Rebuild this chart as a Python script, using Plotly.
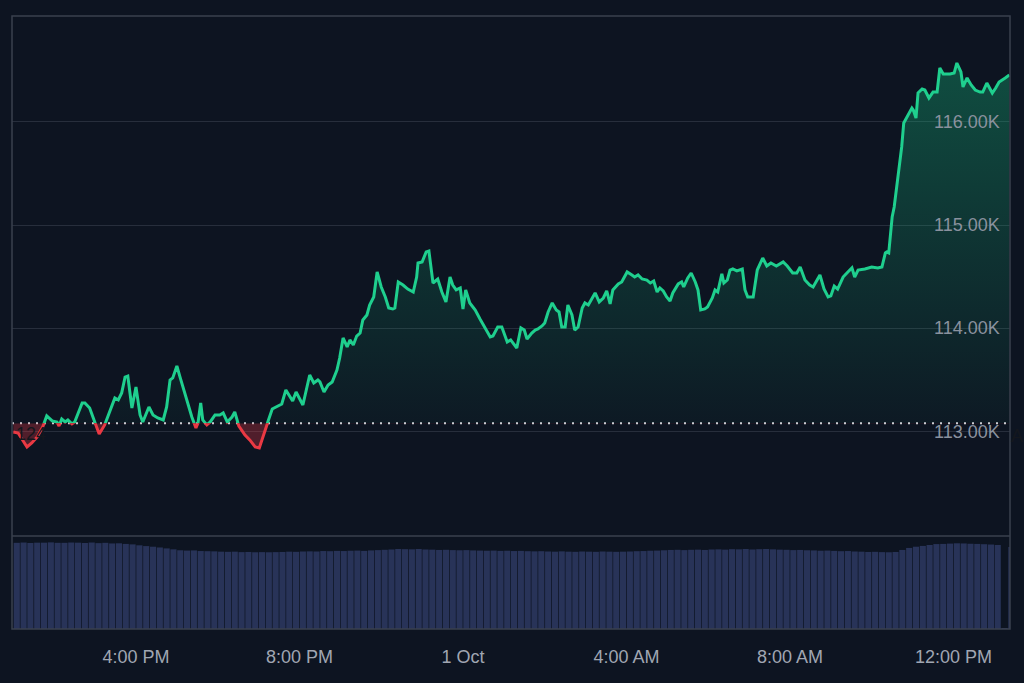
import pandas as pd
import plotly.graph_objects as go

# ---------------- data ----------------
START = pd.Timestamp("2025-09-30 13:00")

# minutes after START for each price sample
MINUTES = [
    0, 7, 20, 27, 35, 43, 49, 57, 64, 67, 71, 76, 80, 86, 90, 101, 105, 112, 120, 126,
    134, 142, 149, 154, 159, 164, 168, 174, 180, 186, 190, 199, 205, 212, 220, 225, 230, 234, 240, 245,
    249, 255, 262, 268, 271, 275, 278, 284, 289, 296, 303, 308, 314, 321, 325, 331, 340, 347, 355, 361,
    366, 372, 380, 388, 394, 400, 408, 410, 415, 425, 435, 441, 447, 450, 456, 462, 468, 475, 479, 484,
    490, 494, 499, 504, 509, 513, 519, 523, 529, 534, 540, 546, 551, 557, 560, 565, 572, 579, 587, 592,
    594, 600, 606, 610, 616, 623, 629, 635, 641, 645, 650, 656, 660, 664, 670, 678, 685, 692, 700, 704,
    711, 717, 725, 730, 736, 739, 745, 750, 754, 761, 766, 770, 776, 780, 785, 791, 797, 801, 805, 810,
    814, 820, 824, 829, 835, 839, 844, 849, 854, 860, 866, 871, 876, 880, 888, 893, 901, 908, 912, 917,
    923, 930, 935, 940, 945, 949, 954, 959, 964, 968, 976, 981, 984, 990, 995, 1001, 1005, 1009, 1015, 1019,
    1026, 1030, 1034, 1040, 1043, 1048, 1052, 1056, 1062, 1070, 1074, 1078, 1086, 1092, 1100, 1106, 1112, 1120, 1130, 1136,
    1144, 1150, 1155, 1162, 1169, 1174, 1184, 1190, 1196, 1200, 1205, 1210, 1218, 1225, 1231, 1235, 1240, 1250, 1260, 1269,
    1275, 1280, 1282, 1285, 1290, 1293, 1297, 1300, 1304, 1307, 1312, 1319, 1321, 1325, 1328, 1334, 1338, 1344, 1350, 1356,
    1360, 1365, 1375, 1381, 1385, 1391, 1394, 1400, 1406, 1412, 1419, 1423, 1429, 1437, 1442, 1447, 1456, 1462,
]

PRICES = [
    112997, 112987, 112852, 112891, 112949, 113045, 113152, 113104, 113094, 113055, 113123, 113094, 113113, 113075, 113094, 113278, 113278, 113229, 113084, 112978,
    113065, 113210, 113326, 113307, 113375, 113529, 113539, 113229, 113433, 113162, 113094, 113239, 113162, 113133, 113113, 113239, 113500, 113520, 113636, 113520,
    113433, 113278, 113142, 113036, 113084, 113278, 113113, 113065, 113094, 113162, 113162, 113181, 113094, 113142, 113191, 113055, 112968, 112920, 112852, 112842,
    112949, 113065, 113220, 113249, 113268, 113404, 113307, 113297, 113384, 113258, 113549, 113471, 113500, 113481, 113384, 113452, 113481, 113597, 113713, 113907,
    113820, 113888, 113839, 113926, 113955, 114081, 114130, 114226, 114304, 114546, 114401, 114304, 114197, 114188, 114197, 114449, 114420, 114381, 114352, 114497,
    114633, 114643, 114740, 114749, 114439, 114478, 114352, 114256, 114497, 114420, 114372, 114391, 114188, 114372, 114246, 114178, 114091, 114013, 113917, 113926,
    114013, 114013, 113868, 113888, 113830, 113810, 114004, 113984, 113897, 113955, 113984, 113994, 114023, 114052, 114159, 114246, 114178, 114159, 114013, 114013,
    114226, 114130, 113984, 114013, 114197, 114246, 114226, 114285, 114343, 114256, 114294, 114362, 114236, 114372, 114430, 114449, 114546, 114517, 114497, 114517,
    114478, 114468, 114439, 114459, 114352, 114391, 114362, 114304, 114265, 114343, 114430, 114449, 114401, 114488, 114536, 114449, 114372, 114178, 114188, 114207,
    114294, 114372, 114352, 114527, 114439, 114468, 114565, 114575, 114556, 114575, 114372, 114304, 114304, 114565, 114681, 114604, 114633, 114604, 114643, 114604,
    114536, 114536, 114594, 114468, 114420, 114401, 114517, 114381, 114304, 114314, 114410, 114381, 114497, 114546, 114585, 114497, 114565, 114575, 114594, 114585,
    114594, 114730, 114740, 114730, 115078, 115175, 115369, 115562, 115756, 115988, 116046, 116133, 116114, 116036, 116279, 116317, 116307, 116230, 116288, 116288,
    116521, 116463, 116463, 116472, 116569, 116482, 116337, 116424, 116356, 116307, 116288, 116288, 116375, 116278, 116327, 116385, 116424, 116453,
]

BASELINE = 113081  # opening price (dotted reference line)

# volume bars, one per 10-minute interval starting at START (billions)
VOLUME = [
    55.6, 55.8, 55.5, 55.7, 55.7, 55.9, 55.6, 55.6, 55.8, 55.7, 55.5, 55.8,
    55.4, 55.6, 55.2, 55.3,
    54.9, 54.6, 54.0, 53.5,
    53.1, 52.6, 52.0, 51.4, 50.8,
    50.6, 50.7, 50.3, 50.2, 50.1, 49.9, 49.8, 49.9, 49.6, 49.7, 49.5, 49.6,
    49.5, 49.6, 49.7, 49.9, 49.8, 50.0, 50.1, 50.0, 50.3, 50.2, 50.4, 50.3, 50.5, 50.6, 50.4,
    50.7, 50.9, 51.1, 51.3, 51.6,
    51.5, 51.4, 51.6, 51.3, 51.2, 51.0, 51.1, 50.9, 50.8, 50.9, 50.7, 50.6, 50.5, 50.6, 50.4,
    50.5, 50.3, 50.4, 50.2, 50.1, 50.2, 50.0, 49.9, 50.1, 49.9, 49.8, 50.0, 49.9, 49.8, 50.0, 49.9, 49.8, 49.9,
    50.0, 50.2, 50.3, 50.5, 50.6, 50.8, 51.0, 51.1, 50.9, 51.1,
    51.2, 51.0, 51.3, 51.4, 51.2, 51.5, 51.4, 51.6, 51.3, 51.5, 51.6,
    51.4, 51.2, 51.1, 50.9, 51.0, 50.8, 50.7, 50.5, 50.6,
    50.4, 50.2, 50.3, 50.0, 49.9, 49.7, 49.8, 49.6, 49.5, 49.7,
    51.0, 52.3, 53.1, 53.6, 54.2, 54.8, 54.9, 55.1,
    55.3, 55.2, 55.0, 54.9, 54.7, 54.5, 54.2,
    0.6,
    52.9,
]
VOL_STEP_MIN = 10

Y_TICKS = [113000, 114000, 115000, 116000]
Y_TICK_TEXT = ["113.00K", "114.00K", "115.00K", "116.00K"]

X_TICK_TIMES = ["2025-09-30 16:00", "2025-09-30 20:00", "2025-10-01 00:00",
                "2025-10-01 04:00", "2025-10-01 08:00", "2025-10-01 12:00"]
X_TICK_TEXT = ["4:00 PM", "8:00 PM", "1 Oct", "4:00 AM", "8:00 AM", "12:00 PM"]

# ---------------- styling / layout constants ----------------
BG = "#0d1421"
GREEN = "#1fcf8e"
RED = "#ea3943"
FONT = "Liberation Sans, Arial, sans-serif"

W, H = 1024, 683
ML, MR, MT, MB = 12, 14, 16, 54
PLOT_H = H - MT - MB
VOL_FRAC = 93 / PLOT_H
P_LO, P_HI = 111990, 117024
X_LO_MIN, X_HI_MIN = -2, 1463

times = [START + pd.Timedelta(minutes=m) for m in MINUTES]
# each bar is drawn at the middle of its 10-minute interval
vol_times = [START + pd.Timedelta(minutes=VOL_STEP_MIN * i + VOL_STEP_MIN / 2) for i in range(len(VOLUME))]

base_frac = VOL_FRAC + (BASELINE - P_LO) / (P_HI - P_LO) * (1 - VOL_FRAC)
x_range = [START + pd.Timedelta(minutes=X_LO_MIN), START + pd.Timedelta(minutes=X_HI_MIN)]

fig = go.Figure()

# dotted opening-price line on the full price pane axis (y)
fig.add_trace(go.Scatter(
    x=x_range, y=[BASELINE, BASELINE], mode="lines", xaxis="x", yaxis="y",
    line=dict(color="#cfd3da", width=2, dash="2px,6px"), hoverinfo="skip", showlegend=False))

# green part (clipped to area above the baseline, axis y2)
fig.add_trace(go.Scatter(x=[times[0], times[-1]], y=[BASELINE, BASELINE], mode="lines",
                         xaxis="x", yaxis="y2", line=dict(width=0), hoverinfo="skip", showlegend=False))
fig.add_trace(go.Scatter(
    x=times, y=PRICES, mode="lines", xaxis="x", yaxis="y2",
    line=dict(color=GREEN, width=3), fill="tonexty",
    fillgradient=dict(type="vertical", start=BASELINE, stop=P_HI,
                      colorscale=[[0, "rgba(22,199,132,0.03)"], [1, "rgba(22,199,132,0.36)"]]),
    hoverinfo="skip", showlegend=False))

# red part (clipped to area below the baseline, axis y3)
fig.add_trace(go.Scatter(x=[times[0], times[-1]], y=[BASELINE, BASELINE], mode="lines",
                         xaxis="x", yaxis="y3", line=dict(width=0), hoverinfo="skip", showlegend=False))
fig.add_trace(go.Scatter(
    x=times, y=PRICES, mode="lines", xaxis="x", yaxis="y3",
    line=dict(color=RED, width=3), fill="tonexty", fillcolor="rgba(234,57,67,0.30)",
    hoverinfo="skip", showlegend=False))

# volume
fig.add_trace(go.Bar(
    x=vol_times, y=VOLUME, xaxis="x", yaxis="y4",
    width=9 * 60 * 1000, marker=dict(color="#283358", line=dict(width=0)),
    hoverinfo="skip", showlegend=False))

hidden = dict(visible=False, showgrid=False, zeroline=False, fixedrange=True)

annotations = [
    dict(text=t, xref="paper", yref="y", x=1.0, y=v, xanchor="right", yanchor="middle",
         xshift=-8, showarrow=False, font=dict(family=FONT, size=18, color="#8a919e"))
    for v, t in zip(Y_TICKS, Y_TICK_TEXT)
]
annotations += [
    dict(text="124", xref="paper", yref="paper", x=2 / (W - ML - MR), y=(H - MB - 434) / PLOT_H,
         xanchor="left", yanchor="middle", showarrow=False,
         font=dict(family=FONT, size=18, color="#14171d")),
    dict(text="A", xref="paper", yref="paper", x=1.0, y=(H - MB - 436) / PLOT_H,
         xanchor="left", yanchor="middle", showarrow=False, xshift=-1,
         font=dict(family=FONT, size=18, color="#14171d")),
]

fig.update_layout(
    width=W, height=H,
    margin=dict(l=ML, r=MR, t=MT, b=MB, pad=0),
    paper_bgcolor=BG, plot_bgcolor="rgba(0,0,0,0)",
    font=dict(family=FONT, size=18, color="#9aa1ad"),
    showlegend=False,
    xaxis=dict(
        type="date", domain=[0, 1], anchor="y4", range=x_range,
        tickvals=X_TICK_TIMES, ticktext=X_TICK_TEXT, ticks="", ticklabelstandoff=15,
        tickfont=dict(size=18, color="#a0a6b2"),
        showgrid=False, zeroline=False, showline=False),
    yaxis=dict(
        domain=[VOL_FRAC, 1], anchor="x", range=[P_LO, P_HI], side="right",
        tickvals=Y_TICKS, showticklabels=False, ticks="",
        showgrid=True, gridcolor="#272e3c", gridwidth=1, zeroline=False, showline=False),
    yaxis2=dict(domain=[base_frac, 1], anchor="x", range=[BASELINE, P_HI], **hidden),
    yaxis3=dict(domain=[VOL_FRAC, base_frac], anchor="x", range=[P_LO, BASELINE], **hidden),
    yaxis4=dict(domain=[0, VOL_FRAC], anchor="x", range=[0, 60], **hidden),
    shapes=[
        dict(type="rect", xref="paper", yref="paper", x0=0, x1=1, y0=0, y1=1,
             line=dict(color="#3a404e", width=1.5), layer="above"),
        dict(type="line", xref="paper", yref="paper", x0=0, x1=1, y0=VOL_FRAC, y1=VOL_FRAC,
             line=dict(color="#3a404e", width=1.5), layer="above"),
    ],
    annotations=annotations,
)

fig.write_html("out.html")
